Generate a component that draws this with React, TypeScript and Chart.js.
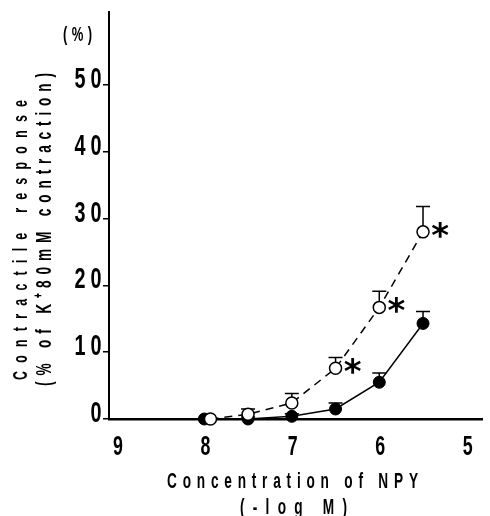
import React, { useEffect, useRef } from "react";
import { Chart, registerables } from "chart.js";
Chart.register(...registerables);

const FAMILY = '"Liberation Sans", Arial, sans-serif';
const NARROW = 0.62;
const DIGIT_NARROW = 0.66;

const xTicks = [9, 8, 7, 6, 5];
const yTicks = [0, 10, 20, 30, 40, 50];

const closedX = [8, 7.5, 7, 6.5, 6, 5.5];
const closedY = [0, 0, 0.4, 1.5, 5.5, 14.3];
const closedUpper = [0, 0.3, 0.8, 2.4, 6.9, 16.1];

const openX = [7.93, 7.5, 7, 6.5, 6, 5.5];
const openY = [0, 0.7, 2.4, 7.6, 16.7, 28.0];
const openUpper = [0, 1.5, 3.8, 9.2, 19.1, 31.8];
const openSignificant = [false, false, false, true, true, true];

const yTitle1 = "Contractile response";
const yTitle2 = "(% of K\u207A80mM contraction)";
const xTitle1 = "Concentration of NPY";
const xTitle2 = "(-log M)";
const unitLabel = "(%)";

// draw text squeezed horizontally, spread so that it spans `length` px from x0
function drawSpread(ctx: CanvasRenderingContext2D, text: string, x0: number, y: number, length: number, sx: number) {
  ctx.save();
  ctx.letterSpacing = "0px";
  const w = ctx.measureText(text).width;
  const n = text.length;
  const ls = n > 1 ? (length / sx - w) / (n - 1) : 0;
  ctx.translate(x0, y);
  ctx.scale(sx, 1);
  ctx.letterSpacing = ls + "px";
  ctx.textAlign = "left";
  ctx.fillText(text, 0, 0);
  ctx.restore();
}

// draw characters one by one with a fixed pitch; the last char centred at xLast
function drawPitched(ctx: CanvasRenderingContext2D, text: string, xLast: number, y: number, pitch: number, sx: number) {
  const n = text.length;
  for (let i = 0; i < n; i++) {
    const cx = xLast - (n - 1 - i) * pitch;
    ctx.save();
    ctx.translate(cx, y);
    ctx.scale(sx, 1);
    ctx.textAlign = "center";
    ctx.fillText(text[i], 0, 0);
    ctx.restore();
  }
}

export default function App() {
  const ref = useRef<HTMLCanvasElement>(null);
  useEffect(() => {
    document.body.style.margin = "0";
    const errorBars = {
      id: "errorBars",
      beforeDatasetsDraw(chart: any) {
        const ctx = chart.ctx;
        const xs = chart.scales.x;
        const ys = chart.scales.y;
        ctx.save();
        ctx.strokeStyle = "#000";
        ctx.lineWidth = 1.5;
        const sets = [
          [openX, openY, openUpper],
          [closedX, closedY, closedUpper],
        ];
        for (const [X, Y, U] of sets) {
          for (let i = 0; i < X.length; i++) {
            if (U[i] <= Y[i]) continue;
            const px = xs.getPixelForValue(X[i]);
            const py = ys.getPixelForValue(Y[i]);
            const pu = ys.getPixelForValue(U[i]);
            ctx.beginPath();
            ctx.moveTo(px, py);
            ctx.lineTo(px, pu);
            ctx.moveTo(px - 7, pu);
            ctx.lineTo(px + 7, pu);
            ctx.stroke();
          }
        }
        ctx.restore();
      },
    };
    const texts = {
      id: "texts",
      afterDraw(chart: any) {
        const ctx = chart.ctx;
        const xs = chart.scales.x;
        const ys = chart.scales.y;
        ctx.save();
        ctx.fillStyle = "#000";
        ctx.textBaseline = "alphabetic";
        // tick labels (positions from the library scales)
        ctx.font = "bold 30px " + FAMILY;
        for (const v of yTicks) {
          const py = ys.getPixelForValue(v);
          drawPitched(ctx, String(v), 96, py + 3, 16, DIGIT_NARROW);
        }
        ctx.font = "bold 27px " + FAMILY;
        for (const v of xTicks) {
          const px = xs.getPixelForValue(v);
          drawPitched(ctx, String(v), px + 1, 455, 16, DIGIT_NARROW);
        }
        // asterisks
        ctx.font = "bold 34px \"DejaVu Sans\", sans-serif";
        for (let i = 0; i < openX.length; i++) {
          if (!openSignificant[i]) continue;
          const px = xs.getPixelForValue(openX[i]);
          const py = ys.getPixelForValue(openY[i]);
          ctx.textAlign = "center";
          ctx.fillText("*", px + 17, py + 15);
        }
        // x titles
        ctx.font = "bold 22px " + FAMILY;
        drawSpread(ctx, xTitle1, 167, 488, 251, NARROW);
        drawSpread(ctx, xTitle2, 240, 514, 107, NARROW);
        // unit label
        ctx.font = "bold 21px " + FAMILY;
        drawSpread(ctx, unitLabel, 63, 41, 29, NARROW);
        // y titles
        ctx.font = "bold 20px " + FAMILY;
        ctx.save();
        ctx.translate(27, 380);
        ctx.rotate(-Math.PI / 2);
        drawSpread(ctx, yTitle1, 0, 0, 280, NARROW);
        ctx.restore();
        ctx.font = "bold 22px " + FAMILY;
        ctx.save();
        ctx.translate(51, 386);
        ctx.rotate(-Math.PI / 2);
        drawSpread(ctx, yTitle2, 0, 0, 313, NARROW);
        ctx.restore();
        ctx.restore();
      },
    };
    const chart = new Chart(ref.current!, {
      type: "line",
      data: {
        datasets: [
          {
            data: openX.map((x, i) => ({ x, y: openY[i] })),
            borderColor: "#000",
            borderWidth: 1.5,
            borderDash: [8, 6],
            pointRadius: 6,
            pointBackgroundColor: "#fff",
            pointBorderColor: "#000",
            pointBorderWidth: 1.5,
            fill: false,
            clip: false as any,
          },
          {
            data: closedX.map((x, i) => ({ x, y: closedY[i] })),
            borderColor: "#000",
            borderWidth: 1.5,
            pointRadius: 6,
            pointBackgroundColor: "#000",
            pointBorderColor: "#000",
            pointBorderWidth: 1,
            fill: false,
            clip: false as any,
          },
        ],
      },
      options: {
        animation: false,
        responsive: true,
        maintainAspectRatio: false,
        layout: { padding: { top: 12, right: 0, left: 0, bottom: 0 } },
        plugins: { legend: { display: false }, tooltip: { enabled: false } },
        scales: {
          x: {
            type: "linear",
            reverse: true,
            min: 4.82,
            max: 9.09,
            afterBuildTicks: (s: any) => {
              s.ticks = xTicks.map((v) => ({ value: v }));
            },
            afterFit: (s: any) => {
              s.height = 97;
            },
            grid: { display: false, drawTicks: false },
            border: { display: true, color: "#000", width: 2.5 },
            ticks: { display: false },
          },
          y: {
            type: "linear",
            min: 0,
            max: 60.9,
            afterBuildTicks: (s: any) => {
              s.ticks = yTicks.map((v) => ({ value: v }));
            },
            afterFit: (s: any) => {
              s.width = 109;
            },
            grid: { display: true, drawOnChartArea: false, drawTicks: true, tickLength: 6, color: "#000", lineWidth: 1.5 },
            border: { display: true, color: "#000", width: 2 },
            ticks: { display: false },
          },
        },
      },
      plugins: [errorBars, texts],
    });
    return () => chart.destroy();
  }, []);
  return (
    <div style={{ position: "absolute", left: 0, top: 0, width: 490, height: 516 }}>
      <canvas ref={ref} />
    </div>
  );
}
